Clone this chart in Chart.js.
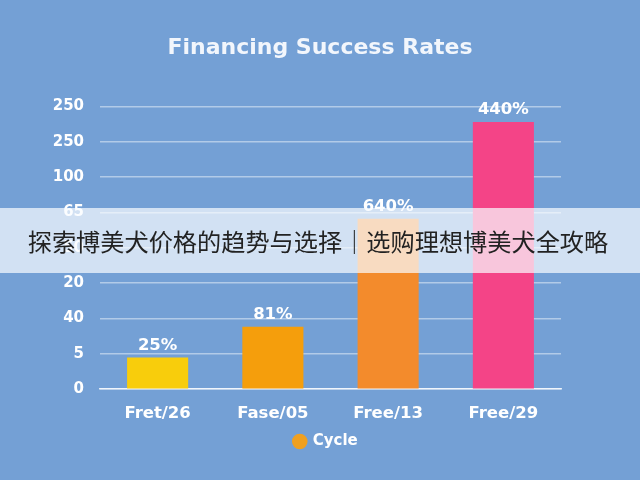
<!DOCTYPE html>
<html>
<head>
<meta charset="utf-8">
<script src="https://cdn.jsdelivr.net/npm/chart.js@4"></script>
<style>
  html, body { margin: 0; padding: 0; background: #74a0d5; }
  #wrap { position: relative; width: 640px; height: 480px; }
  #banner {
    position: absolute; left: 0; top: 208px; width: 636px; height: 65px; padding-right: 4px;
    background: rgba(250, 252, 255, 0.71);
    font-family: "Noto Sans CJK SC", sans-serif; font-size: 24.2px; color: #222;
    display: flex; align-items: center; justify-content: center; white-space: nowrap;
  }
</style>
</head>
<body>
<div id="wrap">
  <canvas id="c" width="640" height="480"></canvas>
  <div id="banner">探索博美犬价格的趋势与选择｜选购理想博美犬全攻略</div>
</div>
<script>
const categories = ["Fret/26", "Fase/05", "Free/13", "Free/29"];
const values = [0.9, 1.77, 4.82, 7.56];
const valueLabels = ["25%", "81%", "640%", "440%"];
const tickLabels = ["0", "5", "40", "20", "50", "65", "100", "250", "250"];
const barColors = ["#f8cd0c", "#f59e0c", "#f38b2c", "#f44487"];
const seriesName = "Cycle";
const legendColor = "#f0a020";

const bgPlugin = {
  id: 'bg',
  beforeDraw(chart) {
    const ctx = chart.ctx;
    ctx.save();
    ctx.fillStyle = '#74a0d5';
    ctx.fillRect(0, 0, chart.width, chart.height);
    ctx.restore();
  },
  afterLayout(chart) {
    if (chart.legend) { chart.legend.left += 6; chart.legend.right += 6; }
  }
};

const labelPlugin = {
  id: 'valLabels',
  afterDatasetsDraw(chart) {
    const ctx = chart.ctx;
    const meta = chart.getDatasetMeta(0);
    ctx.save();
    ctx.fillStyle = '#ffffff';
    ctx.font = 'bold 16.5px "DejaVu Sans"';
    ctx.textAlign = 'center';
    ctx.textBaseline = 'middle';
    meta.data.forEach((bar, i) => {
      ctx.fillText(valueLabels[i], bar.x, bar.y - 12);
    });
    ctx.restore();
  }
};

new Chart(document.getElementById('c'), {
  type: 'bar',
  data: {
    labels: categories,
    datasets: [{
      label: seriesName,
      data: values,
      backgroundColor: barColors,
      borderWidth: 0,
      barPercentage: 0.53,
      categoryPercentage: 1.0
    }]
  },
  options: {
    responsive: false,
    animation: false,
    layout: { padding: { top: 35, right: 0, bottom: 21, left: 0 } },
    plugins: {
      title: {
        display: true,
        text: 'Financing Success Rates',
        color: '#f2f6fc',
        font: { family: '"DejaVu Sans"', weight: 'bold', size: 22 },
        padding: { top: 0, bottom: 45 }
      },
      legend: {
        position: 'bottom',
        labels: {
          color: '#ffffff',
          font: { family: '"DejaVu Sans"', weight: 'bold', size: 15 },
          usePointStyle: true,
          pointStyle: 'circle',
          boxWidth: 11,
          boxHeight: 11,
          padding: 4,
          generateLabels() {
            return [{
              text: seriesName,
              fillStyle: legendColor,
              strokeStyle: legendColor,
              lineWidth: 0,
              pointStyle: 'circle',
              fontColor: '#ffffff',
              datasetIndex: 0
            }];
          }
        }
      },
      tooltip: { enabled: false }
    },
    scales: {
      x: {
        afterFit(scale) { scale.height = scale.height - 9; },
        grid: { display: false, drawTicks: false },
        border: { display: true, color: 'rgba(255,255,255,0.8)', width: 1.5 },
        ticks: {
          color: '#ffffff',
          font: { family: '"DejaVu Sans"', weight: 'bold', size: 16.5 },
          padding: 15
        }
      },
      y: {
        min: 0,
        max: 8,
        afterFit(scale) { scale.width = 100; },
        grid: {
          color: 'rgba(255,255,255,0.45)',
          lineWidth: 1.5,
          drawTicks: false
        },
        border: { display: false },
        ticks: {
          stepSize: 1,
          color: '#ffffff',
          font: { family: '"DejaVu Sans"', weight: 'bold', size: 15 },
          padding: 16,
          callback(value) { return tickLabels[value]; }
        }
      },
      yRight: {
        position: 'right',
        min: 0,
        max: 8,
        afterFit(scale) { scale.width = 79; },
        grid: { display: false, drawTicks: false },
        border: { display: false },
        ticks: { display: false }
      }
    }
  },
  plugins: [bgPlugin, labelPlugin]
});
</script>
</body>
</html>
